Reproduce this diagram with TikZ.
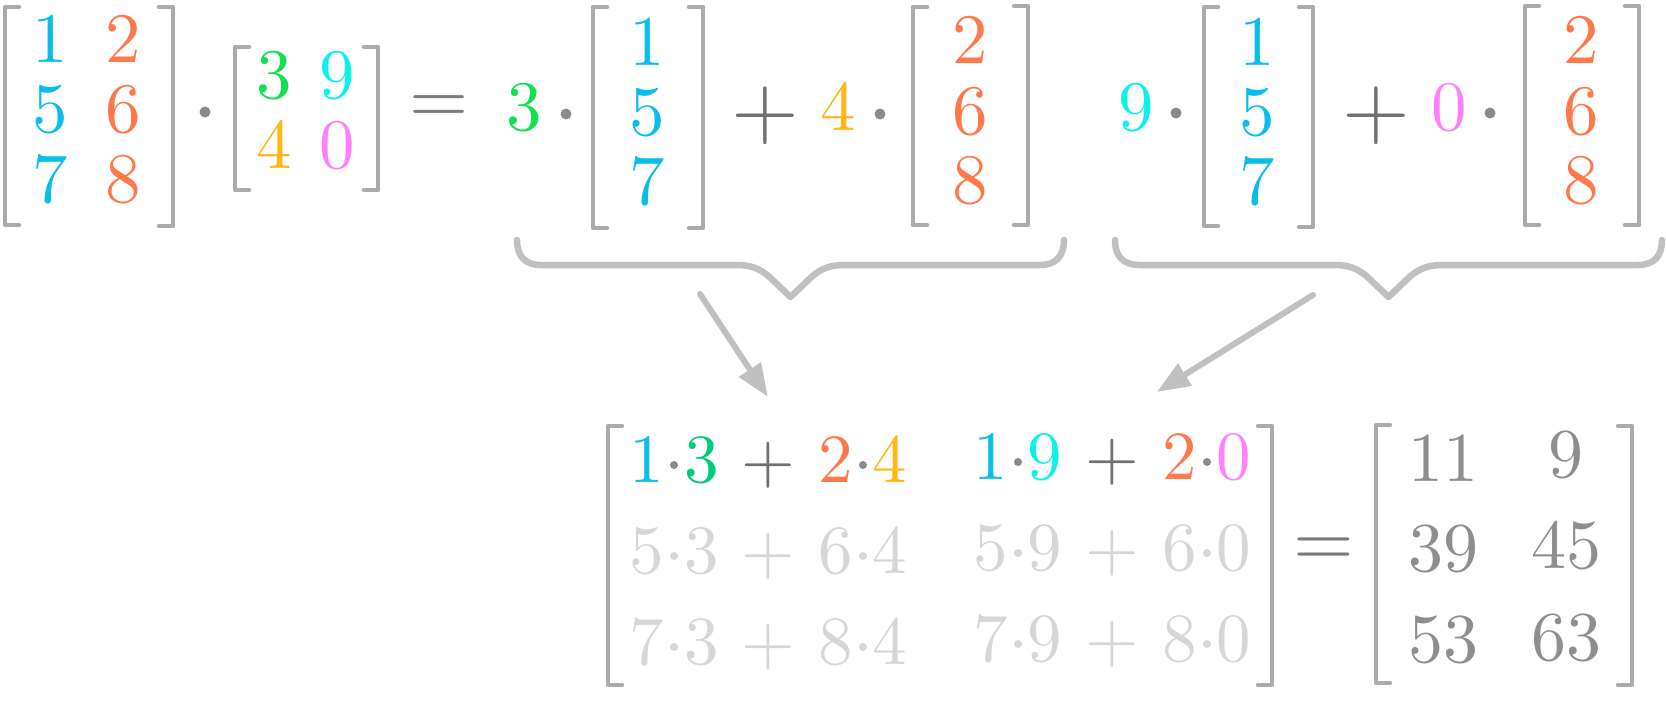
\documentclass[tikz,border=0pt]{standalone}
\usetikzlibrary{arrows.meta}
\font\numA=cmr10 at 71pt
\font\numB=cmr10 at 69pt
\font\numR=cmr10 at 70pt
\font\opEq=cmr10 at 76pt
\font\opEqB=cmr10 at 78pt
\font\opPlus=cmr10 at 87pt
\definecolor{cblue}{HTML}{0BBDEB}
\definecolor{corange}{HTML}{FF7849}
\definecolor{cgreen}{HTML}{11E04F}
\definecolor{cgreenb}{HTML}{00CC7A}
\definecolor{ccyan}{HTML}{0CF2E8}
\definecolor{cyellow}{HTML}{FFB617}
\definecolor{cpink}{HTML}{FF80FF}
\definecolor{brgray}{HTML}{ABABAB}
\definecolor{dotgray}{HTML}{8A8A8A}
\definecolor{opgray}{HTML}{707070}
\definecolor{eqgray}{HTML}{7A7A7A}
\definecolor{resgray}{HTML}{8E8E8E}
\definecolor{lgray}{HTML}{D6D6D6}
\definecolor{bracegray}{HTML}{C0C0C0}
\newcommand\mylbrk[3]{\draw[brk] ({#1+14},#2) -- (#1,#2) -- (#1,#3) -- ({#1+14},#3);}
\newcommand\myrbrk[3]{\draw[brk] ({#1-14},#2) -- (#1,#2) -- (#1,#3) -- ({#1-14},#3);}
\newcommand\mybrace[2]{%
  \pgfmathsetmacro\xc{(#1+#2)/2}%
  \draw[bracestyle] (#1,240) .. controls (#1,256) and ({#1+8},265) .. ({#1+24},265)
    -- ({\xc-55},265) .. controls ({\xc-40},265) and ({\xc-32},268) .. ({\xc-22},276)
    -- (\xc,297) -- ({\xc+22},276)
    .. controls ({\xc+32},268) and ({\xc+40},265) .. ({\xc+55},265)
    -- ({#2-24},265) .. controls ({#2-8},265) and (#2,256) .. (#2,240);}
\begin{document}
\begin{tikzpicture}[x=1pt,y=-1pt,
  num/.style={inner sep=0pt, anchor=base, font=\numA},
  numb/.style={inner sep=0pt, anchor=base, font=\numB},
  res/.style={inner sep=0pt, anchor=base, font=\numR, text=resgray},
  dotA/.style={circle, fill=dotgray, inner sep=0pt, minimum size=11pt},
  dotB/.style={circle, inner sep=0pt, minimum size=8pt},
  brk/.style={draw=brgray, line width=4.5pt, line cap=round, line join=round},
  bracestyle/.style={draw=bracegray, line width=6.5pt, line cap=round, line join=round},
  arr/.style={draw=bracegray, line width=6pt, line cap=round, -{Triangle[length=33pt,width=25pt]}}]
\useasboundingbox (0,0) rectangle (1666,701);

% ---------- top: A . B ----------
\mylbrk{5}{7}{225}
\myrbrk{173}{7}{226}
\node[num, text=cblue]   (a11) at (50,63) {1};
\node[num, text=corange] (a12) at (123,63) {2};
\node[num, text=cblue]   (a21) at (50,132.5) {5};
\node[num, text=corange] (a22) at (123,132.5) {6};
\node[num, text=cblue]   (a31) at (50,202) {7};
\node[num, text=corange] (a32) at (123,202) {8};
\node[dotA] (dAB) at (205,112) {};
\mylbrk{235}{47}{190}
\myrbrk{378}{47}{190}
\node[num, text=cgreen]  (b11) at (274,99) {3};
\node[num, text=ccyan]   (b12) at (337,99) {9};
\node[num, text=cyellow] (b21) at (274,168) {4};
\node[num, text=cpink]   (b22) at (337,168) {0};
\node[inner sep=0pt, anchor=base, font=\opEq, text=eqgray] (eq1) at (439.5,123.5) {=};

% ---------- first column: 3*[1 5 7] + 4*[2 6 8] ----------
\node[num, text=cgreen] (s1) at (524,130.5) {3};
\node[dotA] (ds1) at (566,114) {};
\mylbrk{593}{7}{228}
\myrbrk{703}{7}{228}
\node[num, text=cblue] (c11) at (647,66) {1};
\node[num, text=cblue] (c12) at (647,135) {5};
\node[num, text=cblue] (c13) at (647,204.5) {7};
\node[inner sep=0pt, anchor=base, font=\opPlus, text=opgray] (p1) at (765,137.75) {+};
\node[num, text=cyellow] (s2) at (838,130.5) {4};
\node[dotA] (ds2) at (880,114) {};
\mylbrk{913}{7}{225}
\myrbrk{1028}{6}{225}
\node[num, text=corange] (c21) at (970,64) {2};
\node[num, text=corange] (c22) at (970,134) {6};
\node[num, text=corange] (c23) at (970,203) {8};

% ---------- second column: 9*[1 5 7] + 0*[2 6 8] ----------
\node[num, text=ccyan] (s3) at (1136,130.5) {9};
\node[dotA] (ds3) at (1176,113) {};
\mylbrk{1204}{7}{226}
\myrbrk{1313}{7}{227}
\node[num, text=cblue] (c31) at (1257,66) {1};
\node[num, text=cblue] (c32) at (1257,135) {5};
\node[num, text=cblue] (c33) at (1257,204.5) {7};
\node[inner sep=0pt, anchor=base, font=\opPlus, text=opgray] (p2) at (1376.5,137.75) {+};
\node[num, text=cpink] (s4) at (1449,130.5) {0};
\node[dotA] (ds4) at (1490,113) {};
\mylbrk{1525}{6}{225}
\myrbrk{1639}{6}{225}
\node[num, text=corange] (c41) at (1581,64) {2};
\node[num, text=corange] (c42) at (1581,134) {6};
\node[num, text=corange] (c43) at (1581,203) {8};

% ---------- braces and arrows ----------
\mybrace{517}{1064}
\mybrace{1115}{1662}
\coordinate (ar1s) at (700,294);
\coordinate (ar1e) at (768,397);
\coordinate (ar2s) at (1313,295);
\coordinate (ar2e) at (1157,392);
\draw[arr] (ar1s) -- (ar1e);
\draw[arr] (ar2s) -- (ar2e);

% ---------- bottom: expanded product ----------
\mylbrk{608}{426}{685}
\myrbrk{1272}{426}{685}
% row 1 (coloured)
\node[numb, text=cblue]   (r1a) at (647,482) {1};
\node[dotB, fill=dotgray] (r1d1) at (674,465) {};
\node[numb, text=cgreenb] (r1b) at (702,482) {3};
\node[numb, text=opgray]  (r1p) at (768,482) {+};
\node[numb, text=corange] (r1c) at (836,482) {2};
\node[dotB, fill=dotgray] (r1d2) at (863,465) {};
\node[numb, text=cyellow] (r1e) at (890,482) {4};
\node[numb, text=cblue]   (r1f) at (991,479) {1};
\node[dotB, fill=dotgray] (r1d3) at (1018,462) {};
\node[numb, text=ccyan]   (r1g) at (1045,479) {9};
\node[numb, text=opgray]  (r1q) at (1112,479) {+};
\node[numb, text=corange] (r1h) at (1180,479) {2};
\node[dotB, fill=dotgray] (r1d4) at (1207,462) {};
\node[numb, text=cpink]   (r1k) at (1234,479) {0};
% rows 2 and 3 (faded)
\foreach \i/\yl/\yr/\da/\db in {2/573/570/5/6, 3/664/661/7/8} {
  \node[numb, text=lgray] (r\i a) at (647,\yl) {\da};
  \node[dotB, fill=lgray] (r\i d1) at (674,{\yl-17}) {};
  \node[numb, text=lgray] (r\i b) at (702,\yl) {3};
  \node[numb, text=lgray] (r\i p) at (768,\yl) {+};
  \node[numb, text=lgray] (r\i c) at (836,\yl) {\db};
  \node[dotB, fill=lgray] (r\i d2) at (863,{\yl-17}) {};
  \node[numb, text=lgray] (r\i e) at (890,\yl) {4};
  \node[numb, text=lgray] (r\i f) at (991,\yr) {\da};
  \node[dotB, fill=lgray] (r\i d3) at (1018,{\yr-17}) {};
  \node[numb, text=lgray] (r\i g) at (1045,\yr) {9};
  \node[numb, text=lgray] (r\i q) at (1112,\yr) {+};
  \node[numb, text=lgray] (r\i h) at (1180,\yr) {\db};
  \node[dotB, fill=lgray] (r\i d4) at (1207,{\yr-17}) {};
  \node[numb, text=lgray] (r\i k) at (1234,\yr) {0};
}
\node[inner sep=0pt, anchor=base, font=\opEqB, text=eqgray] (eq2) at (1323.5,566) {=};

% ---------- result ----------
\mylbrk{1376}{425}{683}
\myrbrk{1632}{426}{685}
\node[res] (q11) at (1443,481) {11};
\node[res] (q12) at (1566,477) {9};
\node[res] (q21) at (1443,571.5) {39};
\node[res] (q22) at (1566,568) {45};
\node[res] (q31) at (1443,662) {53};
\node[res] (q32) at (1566,660) {63};
\end{tikzpicture}
\end{document}
